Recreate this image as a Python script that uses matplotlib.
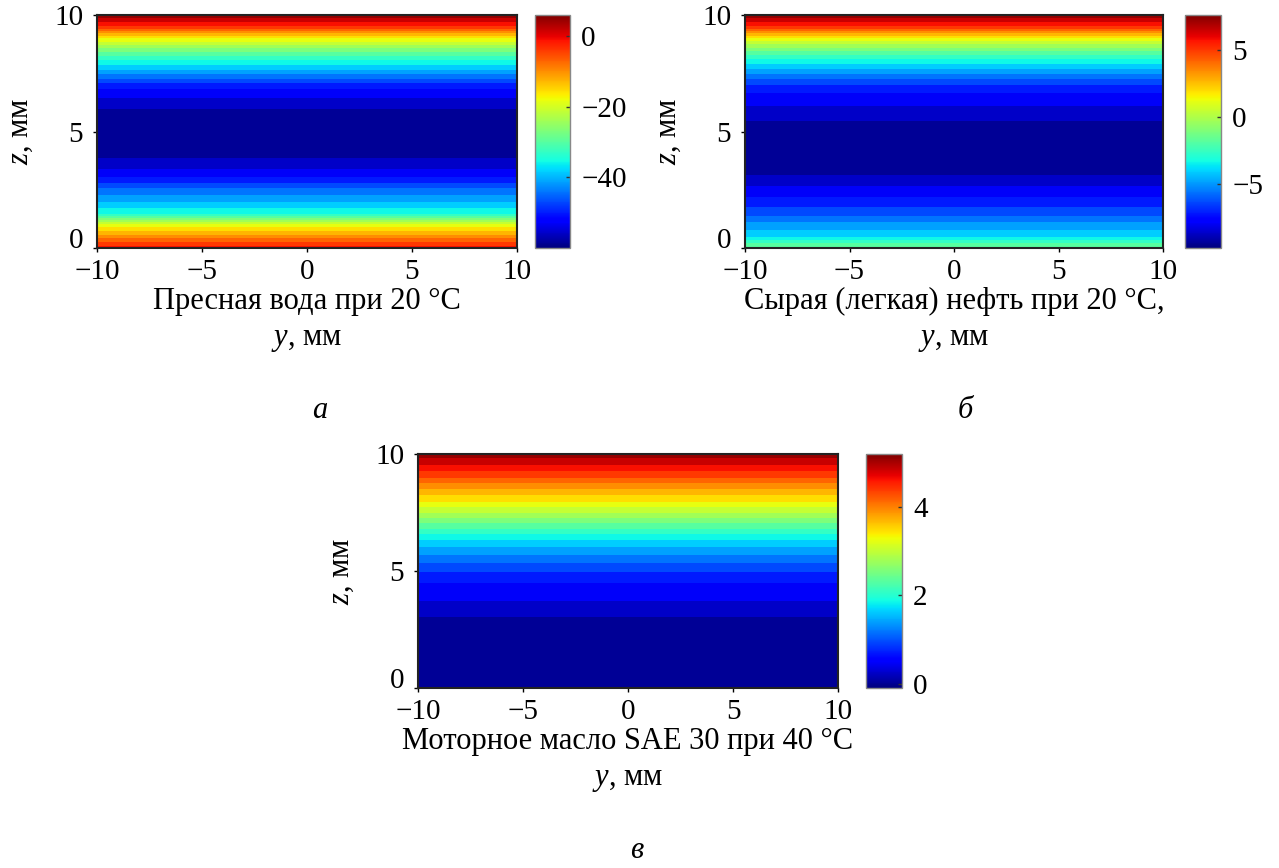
import numpy as np
import matplotlib
matplotlib.use('Agg')
import matplotlib.pyplot as plt
from matplotlib import cm, colors

plt.rcParams['font.family'] = ['Liberation Serif', 'DejaVu Serif']
plt.rcParams['mathtext.fontset'] = 'custom'
plt.rcParams['mathtext.rm'] = 'Liberation Serif'
plt.rcParams['mathtext.it'] = 'Liberation Serif:italic'
plt.rcParams['font.size'] = 22

# y range of the channel, mm (field does not change along y)
y_mm = [-10, 10]
# z samples, mm
z_mm = [0, 0.5, 1, 1.5, 2, 2.5, 3, 3.5, 4, 4.5, 5,
        5.5, 6, 6.5, 7, 7.5, 8, 8.5, 9, 9.5, 10]

# profiles
fresh_water = [-1, -10, -19, -35, -40, -45, -51, -55, -58, -59.5, -59.5,
               -59, -57, -54, -50, -42, -35, -27, -17, -3, 5]
crude_oil = [-1.2, -3.8, -5.0, -6.3, -7.2, -8.0, -8.9, -9.4, -9.6, -9.6, -9.4,
             -9.0, -8.4, -7.8, -6.8, -5.2, -3.4, -1.2, 1.4, 5.3, 7.5]
motor_oil = [0.0, 0.0, 0.0, 0.0, 0.0, 0.03, 0.12, 0.3, 0.45, 0.6, 0.85,
             1.15, 1.5, 1.9, 2.4, 2.9, 3.4, 3.8, 4.3, 4.7, 5.1]

panels = [
    dict(data=fresh_water, vmin=-60, vmax=6, ticks=[0, -20, -40],
         ax=[97, 15, 517, 248], cax=[535, 570],
         caption='Пресная вода при 20 °C', letter='а', lx=320),
    dict(data=crude_oil, vmin=-9.8, vmax=7.6, ticks=[5, 0, -5],
         ax=[745, 15, 1163, 248], cax=[1185, 1221],
         caption='Сырая (легкая) нефть при 20 °C,', letter='б', lx=965),
    dict(data=motor_oil, vmin=-0.1, vmax=5.2, ticks=[4, 2, 0],
         ax=[418, 454, 838, 688], cax=[866, 902],
         caption='Моторное масло SAE 30 при 40 °C', letter='в', lx=637),
]

W, H = 1279, 868
fig = plt.figure(figsize=(W / 100, H / 100), dpi=100)

for p in panels:
    x0, y0, x1, y1 = p['ax']
    ax = fig.add_axes([x0 / W, 1 - y1 / H, (x1 - x0) / W, (y1 - y0) / H])
    Y, Z = np.meshgrid(y_mm, z_mm)
    V = np.tile(np.array(p['data'])[:, None], (1, len(y_mm)))
    levels = np.linspace(p['vmin'], p['vmax'], 24)
    ax.contourf(Y, Z, V, levels=levels, cmap='jet', extend='both')
    ax.set_xlim(-10, 10)
    ax.set_ylim(0, 10)
    ax.set_xticks([-10, -5, 0, 5, 10])
    ax.set_yticks([0, 5, 10])
    ax.tick_params(axis='x', length=3, width=1, pad=5, labelsize=21)
    ax.tick_params(axis='y', length=3, width=1, pad=7, labelsize=21)
    # the bottom z label sits a little above its tick, as in the source
    ax.get_yticklabels()[0].set_va('baseline')
    for s in ax.spines.values():
        s.set_linewidth(1.5)
        s.set_color('#222222')
    ax.set_ylabel(r'$z$, мм', labelpad=14)

    c0, c1 = p['cax']
    cax = fig.add_axes([c0 / W, 1 - y1 / H, (c1 - c0) / W, (y1 - y0) / H])
    sm = cm.ScalarMappable(norm=colors.Normalize(p['vmin'], p['vmax']), cmap='jet')
    cb = fig.colorbar(sm, cax=cax, ticks=p['ticks'])
    cb.outline.set_edgecolor('#888888')
    cb.outline.set_linewidth(1)
    cax.tick_params(direction='in', length=3, width=1, pad=8, color='#333333',
                    labelsize=21)

    xc = (x0 + x1) / 2
    fig.text(xc / W, 1 - (y1 + 53) / H, p['caption'], ha='center', va='center')
    fig.text(xc / W, 1 - (y1 + 92) / H, r'$y$, мм', ha='center', va='center')
    fig.text(p['lx'] / W, 1 - (y1 + 162) / H, p['letter'], ha='center',
             va='center', fontstyle='italic')

fig.savefig('out.png', dpi=100)
